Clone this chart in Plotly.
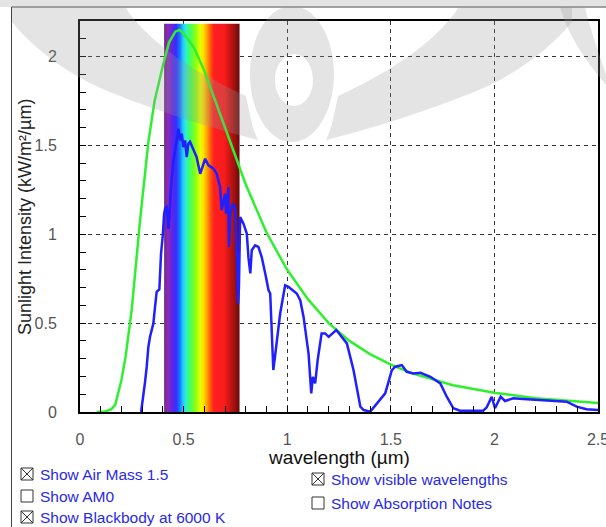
import plotly.graph_objects as go

# ---------------- data ----------------
am15_wavelength = [0.295, 0.306, 0.314, 0.322, 0.33, 0.338, 0.354, 0.362, 0.37, 0.383, 0.391, 0.4,
                   0.406, 0.412, 0.419, 0.427, 0.432, 0.438, 0.451, 0.467, 0.475, 0.483, 0.491, 0.499,
                   0.507, 0.515, 0.523, 0.531, 0.547, 0.563, 0.58, 0.596, 0.604, 0.62, 0.644, 0.66,
                   0.676, 0.684, 0.692, 0.7, 0.705, 0.712, 0.716, 0.719, 0.725, 0.737, 0.749, 0.757,
                   0.763, 0.767, 0.773, 0.789, 0.805, 0.813, 0.822, 0.829, 0.845, 0.861, 0.877, 0.894,
                   0.91, 0.918, 0.925, 0.933, 0.941, 0.966, 0.99, 1.006, 1.046, 1.063, 1.079, 1.103,
                   1.116, 1.124, 1.135, 1.147, 1.166, 1.183, 1.2, 1.237, 1.288, 1.32, 1.353, 1.369,
                   1.401, 1.449, 1.473, 1.505, 1.522, 1.553, 1.577, 1.61, 1.643, 1.691, 1.739, 1.77,
                   1.802, 1.834, 1.946, 1.963, 1.987, 2.003, 2.03, 2.051, 2.091, 2.139, 2.22, 2.349,
                   2.397, 2.445, 2.5]
am15_intensity = [0.0, 0.086, 0.17, 0.255, 0.367, 0.423, 0.498, 0.59, 0.676, 0.69, 0.89, 1.0,
                  1.116, 1.15, 1.153, 1.03, 1.1, 1.247, 1.416, 1.528, 1.594, 1.528, 1.566, 1.49,
                  1.528, 1.434, 1.51, 1.52, 1.472, 1.434, 1.34, 1.407, 1.425, 1.388, 1.369, 1.34,
                  1.266, 1.135, 1.191, 1.228, 1.116, 1.2, 1.266, 0.93, 1.118, 1.172, 1.153, 0.9,
                  0.61, 0.7, 1.097, 1.06, 1.004, 0.87, 0.78, 0.91, 0.938, 0.929, 0.872, 0.779,
                  0.685, 0.667, 0.45, 0.236, 0.311, 0.554, 0.713, 0.704, 0.667, 0.629, 0.535, 0.329,
                  0.105, 0.198, 0.161, 0.292, 0.442, 0.442, 0.423, 0.461, 0.386, 0.236, 0.03, 0.011,
                  0.002, 0.067, 0.105, 0.236, 0.255, 0.264, 0.226, 0.217, 0.221, 0.198, 0.161, 0.086,
                  0.021, 0.007, 0.007, 0.026, 0.086, 0.021, 0.086, 0.062, 0.077, 0.073, 0.067, 0.058,
                  0.03, 0.015, 0.011]

blackbody_wavelength = [0.08, 0.12, 0.15, 0.17, 0.2, 0.22, 0.25, 0.27, 0.29, 0.33, 0.36, 0.4, 0.43,
                        0.46, 0.48, 0.5, 0.55, 0.6, 0.65, 0.7, 0.75, 0.8, 0.9, 1.0, 1.1, 1.2, 1.3,
                        1.4, 1.5, 1.6, 1.8, 2.0, 2.2, 2.5]
blackbody_intensity = [0.0, 0.003, 0.015, 0.04, 0.18, 0.31, 0.58, 0.83, 1.08, 1.52, 1.75, 1.95, 2.08,
                       2.14, 2.15, 2.13, 2.05, 1.92, 1.76, 1.6, 1.43, 1.28, 1.01, 0.8, 0.635, 0.5, 0.4,
                       0.326, 0.266, 0.219, 0.151, 0.108, 0.078, 0.051]

x_tick_values = [0, 0.5, 1, 1.5, 2, 2.5]
x_tick_labels = ["0", "0.5", "1", "1.5", "2", "2.5"]
y_tick_values = [0, 0.5, 1, 1.5, 2]
y_tick_labels = ["0", "0.5", "1", "1.5", "2"]

visible_band = [0.406, 0.77]   # wavelength span of the visible-light band (µm)
visible_band_top = 2.185

checkbox_labels = ["Show Air Mass 1.5", "Show AM0", "Show Blackbody at 6000 K",
                   "Show visible wavelengths", "Show Absorption Notes"]
checkbox_checked = [True, False, True, True, False]

# ---------------- layout geometry (pixels) ----------------
W, H = 606, 527
L, R, T, B = 80, 598, 21, 412


def fx(px):
    return (px - L) / (R - L)


def fy(py):
    return 1 - (py - T) / (B - T)


def ppath(cmds):
    """Build an SVG path in paper coordinates from pixel-space commands."""
    out = []
    for c in cmds:
        letter, pts = c[0], c[1:]
        if letter == "Z":
            out.append("Z")
            continue
        out.append(letter + " " + " ".join(f"{fx(x):.5f},{fy(y):.5f}" for x, y in pts))
    return " ".join(out)


def ellipse_cmds(cx, cy, rx, ry):
    k = 0.5523
    return [("M", (cx + rx, cy)),
            ("C", (cx + rx, cy + k * ry), (cx + k * rx, cy + ry), (cx, cy + ry)),
            ("C", (cx - k * rx, cy + ry), (cx - rx, cy + k * ry), (cx - rx, cy)),
            ("C", (cx - rx, cy - k * ry), (cx - k * rx, cy - ry), (cx, cy - ry)),
            ("C", (cx + k * rx, cy - ry), (cx + rx, cy - k * ry), (cx + rx, cy)),
            ("Z",)]


FONT = "Liberation Sans, Arial, sans-serif"

fig = go.Figure()

# visible wavelengths band with rainbow gradient
rainbow = [[0.0, "#6e2a80"], [0.05, "#8a2cb8"], [0.10, "#6a22e0"], [0.16, "#3030ff"],
           [0.21, "#1878ff"], [0.25, "#20c8ff"], [0.29, "#30f0d0"], [0.34, "#40ff60"],
           [0.42, "#90ff10"], [0.48, "#e8ff00"], [0.52, "#ffe000"], [0.57, "#ffa000"],
           [0.62, "#ff5010"], [0.66, "#ff2020"], [0.80, "#f81c1c"], [0.88, "#c41414"],
           [0.95, "#901010"], [1.0, "#660a0a"]]
fig.add_trace(go.Scatter(
    x=[visible_band[0], visible_band[1], visible_band[1], visible_band[0], visible_band[0]],
    y=[0, 0, visible_band_top, visible_band_top, 0],
    mode="lines", line=dict(width=0), fill="toself",
    fillgradient=dict(type="horizontal", colorscale=rainbow),
    hoverinfo="skip", showlegend=False))

fig.add_trace(go.Scatter(x=blackbody_wavelength, y=blackbody_intensity, mode="lines",
                         line=dict(color="#2ef02e", width=2.5), showlegend=False))
fig.add_trace(go.Scatter(x=am15_wavelength, y=am15_intensity, mode="lines",
                         line=dict(color="#1f1fff", width=2.5), showlegend=False))

axis_common = dict(
    showline=True, linecolor="black", linewidth=2, mirror=True,
    showgrid=True, gridcolor="#333333", gridwidth=1, griddash="4px,4px",
    zeroline=False, ticks="inside", ticklen=6, tickcolor="black", tickwidth=1,
    tickfont=dict(family=FONT, size=16, color="#555555"),
    ticklabeloverflow="allow", automargin=False,
    minor=dict(tickmode="linear", tick0=0, dtick=0.1, ticks="inside", ticklen=6,
               tickcolor="black", tickwidth=1, showgrid=False),
)
fig.update_xaxes(range=[0, 2.5], tickmode="array", tickvals=x_tick_values, ticktext=x_tick_labels,
                 ticklabelstandoff=12, **axis_common)
fig.update_yaxes(range=[0, 2.2], tickmode="array", tickvals=y_tick_values, ticktext=y_tick_labels,
                 ticklabelstandoff=18, **axis_common)

shapes = []
annotations = []

# outer panel frame
shapes.append(dict(type="rect", xref="paper", yref="paper", x0=fx(11.5), x1=fx(700),
                   y0=fy(700), y1=fy(7), line=dict(color="#444444", width=1), layer="below"))

# faint watermark overlay (page logo ghosted over the top of the screenshot)
wm = dict(type="path", xref="paper", yref="paper", fillcolor="rgba(150,150,150,0.26)",
          line=dict(width=0), layer="above")
shapes.append(dict(wm, path=ppath([("M", (0, 0)), ("L", (606, 0)), ("L", (606, 7)),
                                   ("L", (0, 7)), ("Z",)])))
# central ring
ring = ellipse_cmds(292, 74, 42, 68) + ellipse_cmds(294, 80, 19, 26)
shapes.append(dict(wm, path=ppath(ring), fillrule="evenodd"))
# left wing
shapes.append(dict(wm, path=ppath([
    ("M", (12, 7)), ("L", (125, 7)),
    ("C", (150, 45), (200, 75), (246, 96)),
    ("C", (250, 115), (252, 128), (258, 140)),
    ("C", (210, 128), (160, 112), (110, 92)),
    ("C", (70, 76), (35, 50), (12, 22)), ("Z",)])))
# right wing
shapes.append(dict(wm, path=ppath([
    ("M", (572, 7)), ("L", (459, 7)),
    ("C", (434, 45), (384, 75), (338, 96)),
    ("C", (334, 115), (332, 128), (326, 140)),
    ("C", (374, 128), (424, 112), (474, 92)),
    ("C", (514, 76), (549, 50), (572, 22)), ("Z",)])))
# right-edge curl
shapes.append(dict(wm, path=ppath([
    ("M", (560, 7)), ("L", (585, 7)),
    ("C", (590, 30), (600, 55), (606, 75)), ("L", (606, 85)),
    ("C", (585, 60), (568, 35), (560, 7)), ("Z",)])))

# axis titles
annotations.append(dict(x=fx(339), y=fy(457), xref="paper", yref="paper", showarrow=False,
                        text="wavelength (µm)", xanchor="center", yanchor="middle",
                        font=dict(family=FONT, size=19, color="#111111")))
annotations.append(dict(x=fx(25), y=fy(217), xref="paper", yref="paper", showarrow=False,
                        text="Sunlight Intensity (kW/m²/µm)", textangle=-90,
                        xanchor="center", yanchor="middle",
                        font=dict(family=FONT, size=18, color="#222222")))

# checkboxes
box_pos = [(21, 468), (21, 490), (21, 511), (312, 473), (312, 497)]
for (bx, by), label, checked in zip(box_pos, checkbox_labels, checkbox_checked):
    s = 12
    shapes.append(dict(type="rect", xref="paper", yref="paper", x0=fx(bx), x1=fx(bx + s),
                       y0=fy(by + s), y1=fy(by), line=dict(color="#333333", width=1),
                       fillcolor="white"))
    if checked:
        for (a, b, c, d) in [(bx, by, bx + s, by + s), (bx, by + s, bx + s, by)]:
            shapes.append(dict(type="line", xref="paper", yref="paper", x0=fx(a), y0=fy(b),
                               x1=fx(c), y1=fy(d), line=dict(color="#333333", width=1)))
    annotations.append(dict(x=fx(bx + s + 5), y=fy(by + s / 2 + 0.5), xref="paper", yref="paper",
                            showarrow=False, text=label, xanchor="left", yanchor="middle",
                            font=dict(family=FONT, size=15.5, color="#2a2ae6")))

fig.update_layout(
    width=W, height=H,
    margin=dict(l=L, r=W - R, t=T, b=H - B, pad=0, autoexpand=False),
    paper_bgcolor="white", plot_bgcolor="white",
    shapes=shapes, annotations=annotations, showlegend=False,
)

fig.write_html("out.html")
